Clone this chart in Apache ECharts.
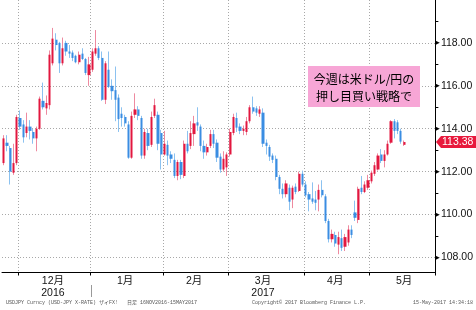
<!DOCTYPE html>
<html><head><meta charset="utf-8">
<script src="https://cdn.jsdelivr.net/npm/echarts@6/dist/echarts.min.js"></script>
<style>html,body{margin:0;padding:0;background:#fff}#c{width:476px;height:310px}</style>
</head><body><div id="c"></div>
<script>
// ---- data ----
const dates = [
'2016-11-24','2016-11-25','2016-11-28','2016-11-29','2016-11-30',
'2016-12-01','2016-12-02','2016-12-05','2016-12-06','2016-12-07','2016-12-08','2016-12-09','2016-12-12','2016-12-13','2016-12-14','2016-12-15','2016-12-16','2016-12-19','2016-12-20','2016-12-21','2016-12-22','2016-12-23','2016-12-26','2016-12-27','2016-12-28','2016-12-29','2016-12-30',
'2017-01-02','2017-01-03','2017-01-04','2017-01-05','2017-01-06','2017-01-09','2017-01-10','2017-01-11','2017-01-12','2017-01-13','2017-01-16','2017-01-17','2017-01-18','2017-01-19','2017-01-20','2017-01-23','2017-01-24','2017-01-25','2017-01-26','2017-01-27','2017-01-30','2017-01-31',
'2017-02-01','2017-02-02','2017-02-03','2017-02-06','2017-02-07','2017-02-08','2017-02-09','2017-02-10','2017-02-13','2017-02-14','2017-02-15','2017-02-16','2017-02-17','2017-02-20','2017-02-21','2017-02-22','2017-02-23','2017-02-24','2017-02-27','2017-02-28',
'2017-03-01','2017-03-02','2017-03-03','2017-03-06','2017-03-07','2017-03-08','2017-03-09','2017-03-10','2017-03-13','2017-03-14','2017-03-15','2017-03-16','2017-03-17','2017-03-20','2017-03-21','2017-03-22','2017-03-23','2017-03-24','2017-03-27','2017-03-28','2017-03-29','2017-03-30','2017-03-31',
'2017-04-03','2017-04-04','2017-04-05','2017-04-06','2017-04-07','2017-04-10','2017-04-11','2017-04-12','2017-04-13','2017-04-14','2017-04-17','2017-04-18','2017-04-19','2017-04-20','2017-04-21','2017-04-24','2017-04-25','2017-04-26','2017-04-27','2017-04-28',
'2017-05-01','2017-05-02','2017-05-03','2017-05-04','2017-05-05','2017-05-08','2017-05-09','2017-05-10','2017-05-11','2017-05-12','2017-05-15'
];
const padDates = ['2017-05-16','2017-05-17','2017-05-18','2017-05-19','2017-05-22','2017-05-23','2017-05-24','2017-05-25','2017-05-26'];

const openP = [
112.4,113.35,113.1,111.95,112.4,
114.5,114.2,113.8,114.1,113.85,113.55,114.0,115.3,114.95,115.1,117.05,118.15,118.0,117.05,118.0,117.6,117.55,117.4,117.1,117.5,117.25,116.5,
116.75,117.5,117.75,117.3,115.35,116.75,116.0,115.8,115.45,114.7,114.55,114.2,112.65,114.65,114.9,114.5,112.75,113.8,113.25,114.6,114.65,113.8,
112.8,113.25,112.8,112.55,111.8,112.45,111.8,113.3,113.2,113.75,114.3,114.1,113.2,112.9,113.2,113.75,113.35,112.7,112.1,112.2,
112.8,113.8,114.5,114.1,113.9,113.85,114.35,115.0,114.95,114.7,114.75,113.35,113.15,112.75,112.6,111.75,111.2,110.95,111.25,110.7,111.3,111.1,111.9,
111.4,110.95,110.75,110.7,110.7,111.15,110.85,109.7,108.85,109.05,108.6,108.9,108.5,108.7,109.3,110.1,109.75,111.25,111.05,111.25,
111.55,111.9,112.1,112.8,112.5,112.8,113.35,114.35,114.3,113.9,113.25
];
const closeP = [
113.55,113.2,112.0,112.4,114.55,
114.1,113.6,114.1,113.9,113.55,114.0,115.4,115.0,115.2,117.45,118.2,117.9,117.05,117.75,117.6,117.5,117.3,117.1,117.45,117.25,116.6,117.0,
117.6,117.75,117.3,115.35,117.05,115.95,115.75,115.35,114.45,114.5,114.25,112.65,114.6,114.9,114.6,112.75,113.85,113.2,114.55,115.1,113.3,112.8,
113.3,112.75,112.6,111.8,112.45,111.85,113.3,112.95,113.8,114.25,114.15,113.2,112.9,113.15,113.75,113.3,112.65,112.1,112.6,112.8,
113.85,114.55,114.05,113.9,114.0,114.35,115.0,114.8,114.75,114.9,113.3,113.2,112.7,112.55,111.75,111.2,110.95,111.45,110.6,111.25,111.05,111.9,111.4,
110.9,110.7,110.6,110.55,111.15,110.9,109.7,108.85,109.1,108.65,108.95,108.45,108.95,109.3,109.05,109.85,111.2,111.05,111.4,111.6,
111.95,112.3,112.75,112.5,112.8,113.3,114.35,113.9,113.9,113.4,113.38
];
const lowP = [
112.3,112.95,111.4,111.85,112.3,
113.95,113.35,113.6,113.5,113.3,112.95,113.95,114.9,114.65,114.9,116.95,117.65,116.6,116.95,117.4,117.3,117.15,117.05,117.0,117.2,116.5,116.0,
116.65,117.4,117.2,115.3,115.15,115.9,115.35,114.35,113.85,114.1,114.1,112.6,112.6,114.5,114.4,112.6,112.6,113.0,113.15,114.5,113.0,112.1,
112.75,112.3,112.4,111.7,111.6,111.65,111.7,112.85,113.05,113.2,113.9,112.95,112.6,112.75,113.1,113.1,112.45,111.95,112.0,111.8,
112.7,113.7,113.85,113.75,113.7,113.7,114.25,114.7,114.6,114.55,113.15,112.8,112.5,112.4,111.6,110.95,110.75,110.8,110.2,110.3,110.95,111.05,111.3,
110.8,110.15,110.5,110.2,110.15,110.8,109.6,108.7,108.7,108.5,108.15,108.3,108.3,108.55,108.9,109.7,109.6,110.95,111.0,111.15,
111.45,111.8,112.05,112.4,112.2,112.75,113.3,113.55,113.75,113.3,113.2
];
const highP = [
113.7,113.7,113.2,113.3,114.65,
114.85,114.4,114.75,114.4,114.0,114.1,115.5,116.15,115.55,117.65,118.7,118.45,118.05,118.25,118.1,117.9,117.65,117.45,117.6,117.75,117.3,117.35,
117.75,118.6,117.85,117.6,117.15,117.6,116.3,116.9,115.6,115.0,114.65,114.35,114.8,115.65,115.05,114.6,114.0,114.0,114.8,115.4,114.8,113.95,
113.9,113.45,112.95,112.85,112.55,112.55,113.45,113.9,114.35,114.6,115.0,114.2,113.45,113.3,113.95,113.95,113.5,112.85,112.95,112.9,
114.0,114.7,114.75,114.25,114.15,114.55,115.1,115.5,115.05,115.05,114.95,113.5,113.25,112.85,112.75,111.85,111.45,111.6,111.4,111.35,111.45,112.0,112.05,
111.55,111.05,111.5,111.1,111.4,111.6,110.95,109.8,109.3,109.2,109.2,109.3,109.1,109.5,109.5,110.65,111.3,111.8,111.55,111.85,
112.05,112.45,112.85,113.05,113.0,113.45,114.4,114.45,114.4,114.0,113.45
];
const yLabelDecimals = 2;
const annotationLines = ['今週は米ドル/円の', '押し目買い戦略で'];
const footerLeft = 'USDJPY Curncy (USD-JPY X-RATE) ザイFX!   日足 16NOV2016-15MAY2017';
const footerMid = 'Copyright© 2017 Bloomberg Finance L.P.';
const footerRight = '15-May-2017 14:34:18';
const yearOfLabel = ['2016', '', '', '2017', '', ''];

// ---- derived ----
const cats = dates.concat(padDates);
const isMonthStart = cats.map((d, i) => i > 0 && d.slice(0, 7) !== cats[i - 1].slice(0, 7));
const labelAt = {};
let mCount = 0;
cats.forEach((d, i) => {
  if (!isMonthStart[i]) return;
  const y = +d.slice(0, 4), m = +d.slice(5, 7);
  const days = new Date(y, m, 0).getDate();
  let n = 0;
  for (let k = 1; k <= days; k++) { const wd = new Date(y, m - 1, k).getDay(); if (wd !== 0 && wd !== 6) n++; }
  const idx = i + Math.floor(n / 2) - 1;
  const yr = yearOfLabel[mCount] || '';
  labelAt[idx] = m + '月' + (yr ? '\n' + yr : '');
  mCount++;
});
const wickData = dates.map((d, i) => [openP[i], closeP[i], lowP[i], highP[i]]);
const bodyData = dates.map((d, i) => [openP[i], closeP[i], Math.min(openP[i], closeP[i]), Math.max(openP[i], closeP[i])]);

const GRID = {left: 2, right: 40, top: 0, bottom: 37.5};
const FONT = '"Liberation Sans", Arial, "Noto Sans CJK JP", sans-serif';

const chart = echarts.init(document.getElementById('c'), null, {renderer: 'canvas'});
chart.setOption({
  animation: false,
  backgroundColor: '#fff',
  grid: GRID,
  xAxis: {
    type: 'category', data: cats, boundaryGap: true,
    axisLine: {show: true, lineStyle: {color: '#000', width: 1}},
    axisTick: {show: true, length: 3, interval: (i) => isMonthStart[i], lineStyle: {color: '#000'}},
    splitLine: {show: true, interval: (i) => isMonthStart[i], lineStyle: {color: '#a8a8a8', type: [1, 2], width: 1}},
    axisLabel: {
      show: true, interval: (i) => labelAt[i] !== undefined,
      formatter: (v, i) => labelAt[i] || '',
      color: '#111', fontSize: 10.5, lineHeight: 12, margin: 3, fontFamily: FONT
    }
  },
  yAxis: {
    type: 'value', position: 'right', min: 107.3, max: 120, splitNumber: 6, scale: true,
    axisLine: {show: true, onZero: false, lineStyle: {color: '#000', width: 1}},
    axisTick: {show: false},
    minorTick: {show: true, splitNumber: 2, length: 3, lineStyle: {color: '#000'}},
    splitLine: {show: true, showMinLine: false, showMaxLine: false, lineStyle: {color: '#a8a8a8', type: [1, 2], width: 1}},
    axisLabel: {
      show: true, showMinLabel: false, showMaxLabel: false, margin: 0,
      formatter: (v) => '{t|▸}' + v.toFixed(yLabelDecimals),
      color: '#111', fontSize: 10.5, fontFamily: FONT,
      rich: {t: {fontSize: 9, color: '#000', fontFamily: 'DejaVu Sans', padding: [0, 1, 0, 0]}}
    }
  },
  series: [
    {
      type: 'candlestick', name: 'wick', data: wickData, barWidth: 1,
      itemStyle: {color: '#ee8aa0', color0: '#8cc2f0', borderColor: '#ee8aa0', borderColor0: '#8cc2f0', borderWidth: 1}
    },
    {
      type: 'candlestick', name: 'body', data: bodyData, barWidth: 2.7,
      itemStyle: {color: '#e2173f', color0: '#3a8de2', borderColor: '#e2173f', borderColor0: '#3a8de2', borderWidth: 0}
    }
  ]
});

// ---- annotations positioned from axes ----
const W = chart.getWidth();
const axisX = W - GRID.right;
const lastClose = closeP[closeP.length - 1];
const ty = chart.convertToPixel({yAxisIndex: 0}, lastClose);
const firstJan = cats.findIndex(d => d.slice(0, 4) === '2017');
const cx0 = chart.convertToPixel({xAxisIndex: 0}, firstJan);
const cx1 = chart.convertToPixel({xAxisIndex: 0}, firstJan + 1);
const yearSepX = Math.round(cx0 - (cx1 - cx0) / 2) + 0.5;

chart.setOption({
  graphic: [
    {type: 'rect', shape: {x: 308, y: 66, width: 112, height: 41}, style: {fill: '#f7a6d6'}, z: 10},
    {type: 'text', x: 364, y: 79, style: {text: annotationLines[0], fill: '#000', font: '12px "Noto Sans CJK JP"', align: 'center', verticalAlign: 'middle'}, z: 11},
    {type: 'text', x: 364, y: 96.5, style: {text: annotationLines[1], fill: '#000', font: '12px "Noto Sans CJK JP"', align: 'center', verticalAlign: 'middle'}, z: 11},
    {type: 'polygon', shape: {points: [[axisX, ty], [axisX + 5, ty - 6], [W, ty - 6], [W, ty + 6], [axisX + 5, ty + 6]]}, style: {fill: '#e8193c'}, z: 20},
    {type: 'text', x: axisX + 6, y: ty, style: {text: lastClose.toFixed(2), fill: '#fff', font: '10.5px "Liberation Sans", Arial', verticalAlign: 'middle'}, z: 21},
    {type: 'line', shape: {x1: yearSepX, y1: 285, x2: yearSepX, y2: 297}, style: {stroke: '#999', lineWidth: 1}, z: 5},
    {type: 'text', x: 6, y: 303, style: {text: footerLeft, fill: '#555', font: '5px "Liberation Mono", "Noto Sans CJK JP", monospace', verticalAlign: 'middle'}},
    {type: 'text', x: 252, y: 303, style: {text: footerMid, fill: '#555', font: '5px "Liberation Mono", monospace', verticalAlign: 'middle'}},
    {type: 'text', x: 413, y: 303, style: {text: footerRight, fill: '#555', font: '5px "Liberation Mono", monospace', verticalAlign: 'middle'}}
  ]
});
</script>
</body></html>
